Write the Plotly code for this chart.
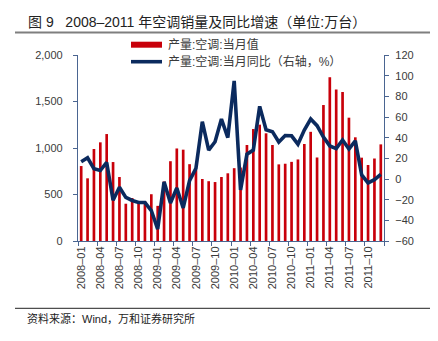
import plotly.graph_objects as go

# Monthly air-conditioner output, 2008-01 .. 2011-12
months = [f"{y}–{m:02d}" for y in range(2008, 2012) for m in range(1, 13)]

# 产量:空调:当月值 (万台)
volume = [
    806, 674, 989, 1061, 1150, 849, 688, 401, 462, 420, 428, 503,
    378, 640, 858, 995, 982, 826, 765, 667, 643, 634, 688, 728,
    783, 790, 1032, 1204, 1251, 1158, 1032, 824, 831, 851, 877, 1043,
    1174, 898, 1462, 1761, 1629, 1602, 1326, 1115, 896, 817, 887, 1039,
]

# 产量:空调:当月同比 (%)
yoy = [
    16.7, 20.5, 10.0, 8.2, 16.0, -20.5, -8.0, -17.8, -20.8, -22.7, -22.8, -30.5,
    -48.5, -2.8, -23.2, -8.7, -28.0, -1.5, 10.3, 55.5, 28.0, 36.0, 58.0, 40.0,
    95.0, -10.6, 24.0, 28.0, 70.3, 47.7, 45.8, 35.8, 42.0, 41.8, 33.7, 47.4,
    58.0, 51.6, 40.5, 32.0, 29.4, 37.7, 29.0, 36.9, 3.9, -3.8, -0.6, 4.5,
]

bar_name = "产量:空调:当月值"
line_name = "产量:空调:当月同比（右轴，%）"
title_text = "图 9   2008–2011 年空调销量及同比增速（单位:万台）"
source_text = "资料来源：Wind，万和证券研究所"

RED = "#C8000A"
NAVY = "#0B2A5E"
AXIS = "#4A6591"
TEXT = "#3A3A3A"
FONT = "Liberation Sans, Noto Sans CJK SC, sans-serif"

W, H = 438, 341
L, R, T, B = 78, 54, 55, 100
PW, PH = W - L - R, H - T - B


def px_x(x):
    return (x - L) / PW


def px_y(y):
    return (H - B - y) / PH


fig = go.Figure()
fig.add_trace(go.Bar(
    x=months, y=volume, name=bar_name, marker_color=RED,
    marker_line_width=0, showlegend=False,
))
fig.add_trace(go.Scatter(
    x=months, y=yoy, name=line_name, yaxis="y2", mode="lines",
    line=dict(color=NAVY, width=3.6), showlegend=False,
))

shapes = [
    # rule under the title
    dict(type="line", xref="paper", yref="paper",
         x0=px_x(15), x1=px_x(430), y0=px_y(32.5), y1=px_y(32.5),
         line=dict(color="#7F7F7F", width=2)),
    # rule above the source line
    dict(type="line", xref="paper", yref="paper",
         x0=px_x(15), x1=px_x(430), y0=px_y(308.3), y1=px_y(308.3),
         line=dict(color="#222222", width=1)),
    # legend keys
    dict(type="rect", xref="paper", yref="paper",
         x0=px_x(131), x1=px_x(162), y0=px_y(47.7), y1=px_y(41.7),
         fillcolor=RED, line=dict(width=0)),
    dict(type="line", xref="paper", yref="paper",
         x0=px_x(131), x1=px_x(162), y0=px_y(61.7), y1=px_y(61.7),
         line=dict(color=NAVY, width=3.6)),
]

annotations = [
    dict(text=title_text, xref="paper", yref="paper", x=px_x(26), y=px_y(22.5),
         xanchor="left", yanchor="middle", showarrow=False,
         font=dict(family=FONT, size=14, color="#222222")),
    dict(text=source_text, xref="paper", yref="paper", x=px_x(25), y=px_y(318.5),
         xanchor="left", yanchor="middle", showarrow=False,
         font=dict(family=FONT, size=11, color="#222222")),
    dict(text=bar_name, xref="paper", yref="paper", x=px_x(166), y=px_y(44),
         xanchor="left", yanchor="middle", showarrow=False,
         font=dict(family=FONT, size=12, color=TEXT)),
    dict(text=line_name, xref="paper", yref="paper", x=px_x(166), y=px_y(61.5),
         xanchor="left", yanchor="middle", showarrow=False,
         font=dict(family=FONT, size=12, color=TEXT)),
]

fig.update_layout(
    width=W, height=H,
    margin=dict(l=L, r=R, t=T, b=B, autoexpand=False),
    paper_bgcolor="white", plot_bgcolor="white",
    bargap=0.58,
    showlegend=False,
    font=dict(family=FONT, size=11, color=TEXT),
    xaxis=dict(
        type="category", tickmode="linear", tick0=0, dtick=3,
        tickson="boundaries", ticks="outside", ticklen=4, tickcolor=AXIS,
        tickangle=-90, showline=True, linecolor=AXIS, linewidth=1.2,
        showgrid=False, tickfont=dict(size=11, color=TEXT),
        range=[-0.5, len(months) - 0.5],
    ),
    yaxis=dict(
        range=[0, 2000], dtick=500, tickformat=",",
        ticks="outside", ticklen=4, tickcolor=AXIS,
        showline=True, linecolor=AXIS, linewidth=1.2,
        showgrid=False, zeroline=False, ticklabelstandoff=8,
        tickfont=dict(size=11, color=TEXT),
    ),
    yaxis2=dict(
        range=[-60, 120], dtick=20, overlaying="y", side="right",
        ticks="outside", ticklen=4, tickcolor=AXIS,
        showline=True, linecolor=AXIS, linewidth=1.2,
        showgrid=False, zeroline=False, ticklabelstandoff=4,
        tickfont=dict(size=11, color=TEXT),
    ),
    shapes=shapes,
    annotations=annotations,
)

fig.write_html("out.html")
